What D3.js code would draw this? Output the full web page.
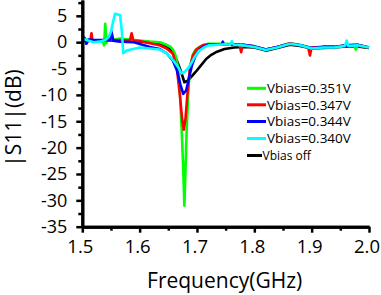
<!DOCTYPE html>
<html><head><meta charset="utf-8">
<script src="https://cdn.jsdelivr.net/npm/d3@7"></script>
<style>
body{margin:0;background:#fff}
text{font-family:"Open Sans",sans-serif;fill:#000}
</style>
</head><body>
<svg id="c" width="381" height="295"></svg>
<script>
// ---- data ----
const xMajorTicks = [1.5, 1.6, 1.7, 1.8, 1.9, 2.0];
const xMinorTicks = [1.55, 1.65, 1.75, 1.85, 1.95];
const yMajorTicks = [5, 0, -5, -10, -15, -20, -25, -30, -35];
const yMinorTicks = [7.5, 2.5, -2.5, -7.5, -12.5, -17.5, -22.5, -27.5, -32.5];
const seriesNames = ["Vbias=0.351V", "Vbias=0.347V", "Vbias=0.344V", "Vbias=0.340V", "Vbias off"];
const seriesColors = ["#00ff00", "#ff0000", "#0000ff", "#00ffff", "#000000"];

const fGreen = [1.500,1.510,1.520,1.530,1.536,1.538,1.540,1.542,1.545,1.555,1.566,1.590,1.618,1.635,1.647,1.654,1.658,1.662,1.667,1.670,1.6733,1.676,1.678,1.680,1.682,1.685,1.688,1.693,1.697,1.703,1.710,1.720,1.750,1.780,1.800,1.820,1.840,1.862,1.880,1.900,1.920,1.940,1.960,1.974,1.977,1.980,2.000];
const vGreen = [0.6,0.4,0.3,0.2,0.0,-0.6,3.5,-0.2,0.5,0.5,0.7,0.4,0.1,0.0,-0.5,-0.9,-1.4,-2.3,-4.7,-9,-16.6,-24,-31,-24,-16.6,-9,-4.7,-2.3,-1.5,-1.0,-0.6,-0.3,-0.3,-0.5,-0.8,-1.4,-0.9,-0.2,-0.5,-1.1,-0.9,-0.9,-0.6,-0.6,-1.4,-0.6,-1.0];

const fRed = [1.500,1.510,1.514,1.516,1.518,1.530,1.550,1.566,1.583,1.586,1.589,1.600,1.618,1.635,1.647,1.658,1.6646,1.6704,1.674,1.677,1.680,1.683,1.6878,1.693,1.700,1.710,1.720,1.750,1.774,1.777,1.780,1.800,1.820,1.840,1.862,1.880,1.894,1.897,1.900,1.920,1.940,1.960,1.980,2.000];
const vRed = [0.3,0.2,0.3,1.7,0.2,0.3,0.3,0.4,0.3,1.7,0.3,0.2,-0.2,-0.6,-1.2,-2.2,-4.7,-10.3,-14.5,-16.6,-14.5,-10.3,-4.7,-2.5,-1.3,-0.6,-0.4,-0.4,-0.5,-1.9,-0.5,-0.8,-1.4,-0.9,-0.2,-0.6,-1.0,-2.5,-1.0,-0.9,-0.9,-0.6,-0.5,-1.0];

const fBlue = [1.500,1.504,1.507,1.511,1.520,1.535,1.548,1.551,1.554,1.566,1.590,1.618,1.635,1.647,1.658,1.665,1.671,1.676,1.681,1.686,1.691,1.697,1.704,1.712,1.720,1.743,1.745,1.747,1.780,1.800,1.820,1.840,1.862,1.880,1.900,1.920,1.940,1.960,1.980,2.000];
const vBlue = [1.1,0.8,-0.3,0.5,0.4,0.4,0.4,2.0,0.3,0.1,0.0,-0.9,-1.3,-2.1,-3.5,-5.3,-8,-9.8,-9.2,-6.8,-4.5,-2.7,-1.5,-0.8,-0.5,-0.4,0.1,-0.5,-0.5,-0.8,-1.4,-0.9,-0.3,-0.6,-1.1,-0.9,-0.9,-0.6,-0.5,-1.0];

const fCyan = [1.500,1.510,1.520,1.530,1.540,1.546,1.550,1.554,1.557,1.561,1.566,1.569,1.5715,1.5774,1.600,1.618,1.635,1.647,1.659,1.667,1.673,1.679,1.685,1.690,1.696,1.703,1.712,1.720,1.750,1.758,1.761,1.764,1.780,1.800,1.820,1.840,1.862,1.880,1.900,1.920,1.940,1.958,1.961,1.964,1.980,2.000];
const vCyan = [0.7,0.3,0.0,0.1,0.4,1.0,2.0,4.0,5.4,5.3,5.1,2.0,-2.1,-1.6,-1.0,-1.2,-1.4,-2.1,-3.5,-4.7,-5.9,-5.6,-4.9,-4.0,-2.8,-1.7,-1.0,-0.6,-0.4,-0.5,0.2,-0.5,-0.6,-0.9,-1.5,-1.0,-0.3,-0.6,-1.2,-1.0,-1.0,-0.7,0.3,-0.7,-0.6,-1.0];

const fBlack = [1.500,1.530,1.560,1.590,1.620,1.640,1.655,1.665,1.672,1.678,1.684,1.690,1.698,1.707,1.716,1.725,1.735,1.748,1.765,1.780,1.800,1.820,1.840,1.862,1.880,1.900,1.920,1.940,1.960,1.980,2.000];
const vBlack = [0.4,0.3,0.3,0.2,0.0,-0.5,-1.5,-3.5,-5.5,-7.6,-7.3,-6.6,-5.6,-4.4,-3.2,-2.4,-1.8,-1.3,-1.0,-0.9,-1.0,-1.6,-1.1,-0.5,-0.7,-1.2,-1.1,-1.0,-0.8,-0.8,-1.1];

const seriesF = [fGreen, fRed, fBlue, fCyan, fBlack];
const seriesV = [vGreen, vRed, vBlue, vCyan, vBlack];
const drawOrder = [4, 0, 1, 2, 3];

// ---- chart ----
const svg = d3.select("#c");
const x = d3.scaleLinear().domain([1.5, 2.0]).range([82.3, 369]);
const y = d3.scaleLinear().domain([-35, 8]).range([226.7, 0]);

const line = d3.line().x(d => x(d[0])).y(d => y(d[1]));
const plot = svg.append("g");
drawOrder.forEach(i => {
  const pts = seriesF[i].map((f, k) => [f, seriesV[i][k]]);
  plot.append("path").attr("d", line(pts))
    .attr("fill", "none").attr("stroke", seriesColors[i])
    .attr("stroke-width", 2.6).attr("stroke-linejoin", "round");
});

// axes
const yAx = svg.append("g").attr("transform", `translate(${x(1.5)},0)`)
  .call(d3.axisLeft(y).tickValues(yMajorTicks).tickSize(6).tickSizeOuter(0).tickPadding(9).tickFormat(d3.format("d")));
const yAxMinor = svg.append("g").attr("transform", `translate(${x(1.5)},0)`)
  .call(d3.axisLeft(y).tickValues(yMinorTicks).tickSize(4).tickSizeOuter(0).tickFormat(""));
const xAx = svg.append("g").attr("transform", `translate(0,${y(-35)})`)
  .call(d3.axisBottom(x).tickValues(xMajorTicks).tickSize(6).tickSizeOuter(0).tickPadding(7).tickFormat(d3.format(".1f")));
const xAxMinor = svg.append("g").attr("transform", `translate(0,${y(-35)})`)
  .call(d3.axisBottom(x).tickValues(xMinorTicks).tickSize(4).tickSizeOuter(0).tickFormat(""));

[yAx, yAxMinor, xAx, xAxMinor].forEach(g => {
  g.select(".domain").attr("stroke", "#000").attr("stroke-width", 3);
  g.selectAll(".tick line").attr("stroke", "#000").attr("stroke-width", 2.5);
});
yAx.selectAll("text").style("font-size", "18px").text(d => d < 0 ? "-" + Math.abs(d) : d);
xAx.selectAll("text").style("font-size", "18.5px").attr("x", -2.5);

// axis titles
svg.append("text").attr("x", x(1.75) - 1).attr("y", 288)
  .attr("text-anchor", "middle").style("font-size", "21px").text("Frequency(GHz)");
svg.append("text").attr("transform", "translate(21,118) rotate(-90)")
  .attr("text-anchor", "middle").style("font-size", "21px").text("|S11|(dB)");

// legend
const legY = [88.3, 104.8, 121.5, 138.5, 155.5];
seriesNames.forEach((name, i) => {
  const small = i === 4;
  svg.append("line").attr("x1", 247).attr("x2", small ? 262 : 266)
    .attr("y1", legY[i]).attr("y2", legY[i])
    .attr("stroke", seriesColors[i]).attr("stroke-width", 3);
  svg.append("text").attr("x", small ? 262.5 : 267).attr("y", legY[i])
    .attr("dy", "0.36em").style("font-size", small ? "12px" : "13.5px").text(name);
});
</script>
</body></html>
